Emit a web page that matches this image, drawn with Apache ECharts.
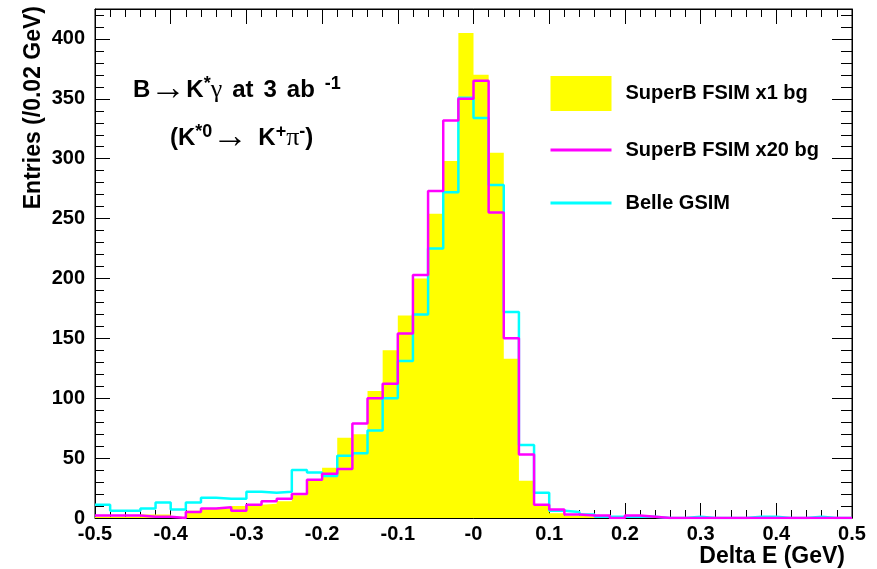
<!DOCTYPE html>
<html>
<head>
<meta charset="utf-8">
<style>
  * { margin: 0; padding: 0; }
  #container { width: 877px; height: 569px; background: #fff; }
</style>
</head>
<body>
<div id="container"></div>
<script src="https://cdn.jsdelivr.net/npm/echarts@6/dist/echarts.min.js"></script>
<script>
// histogram binning: 50 bins of 0.02 GeV from -0.5 to 0.5
var binLow = -0.5;
var binWidth = 0.02;
var xTickLabels = ['-0.5', '-0.4', '-0.3', '-0.2', '-0.1', '-0', '0.1', '0.2', '0.3', '0.4', '0.5'];

// entries per bin
var superbX1 = [1, 1, 1, 3, 3, 1, 6, 8, 8, 10,
                11, 12, 14, 19, 32, 42, 67, 70, 106, 140,
                169, 200, 254, 298, 405, 370, 305, 133, 31, 11,
                4, 2, 1, 1, 0, 1, 0, 0, 0, 0,
                0, 0, 0, 0, 0, 0, 0, 0, 0, 0];
var superbX20 = [2, 2, 2, 1, 1, 0, 5, 8, 9, 6,
                 11, 14, 16, 20, 32, 37, 41, 79, 100, 112,
                 154, 203, 273, 332, 350, 365, 255, 150, 53, 11,
                 7, 3, 2, 2, 0, 2, 1, 0, 0, 0,
                 0, 0, 0, 0, 0, 0, 0, 0, 0, 0];
var belleGsim = [11, 6, 6, 8, 13, 7, 13, 17, 16, 16,
                 22, 21, 22, 40, 38, 35, 52, 54, 73, 100,
                 131, 170, 225, 272, 351, 334, 278, 172, 61, 21,
                 6, 5, 3, 1, 1, 1, 1, 0, 0, 1,
                 0, 0, 0, 1, 1, 0, 0, 1, 0, 0];

var font = 'Liberation Sans, Arial, Helvetica, sans-serif';

// turn bin contents into [lowEdge, value] points for a step line
function stepPoints(values) {
  var pts = [];
  for (var i = 0; i < values.length; i++) {
    pts.push([+(binLow + i * binWidth).toFixed(2), values[i]]);
  }
  pts.push([+(binLow + values.length * binWidth).toFixed(2), values[values.length - 1]]);
  return pts;
}

function xLabel(v) {
  var idx = Math.round((v - binLow) * 10);
  return xTickLabels[idx] !== undefined ? xTickLabels[idx] : '';
}

var tickLine = { color: '#000', width: 1 };
var labelStyle = { color: '#000', fontFamily: font, fontWeight: 'bold', fontSize: 20 };

var richTitle = {
  n: { fontFamily: font, fontWeight: 'bold', fontSize: 24, lineHeight: 30, fill: '#000' },
  a: { fontFamily: 'Liberation Serif, DejaVu Serif, serif', fontSize: 36, lineHeight: 30, fill: '#000' },
  s: { fontFamily: 'Liberation Serif, DejaVu Serif, serif', fontSize: 26, lineHeight: 30, fill: '#000' },
  u: { fontFamily: font, fontWeight: 'bold', fontSize: 18, lineHeight: 15, verticalAlign: 'top', fill: '#000' },
  w: { width: 10, lineHeight: 30 }
};

var dom = document.getElementById('container');
var myChart = echarts.init(dom, null, { renderer: 'canvas' });

var option = {
  animation: false,
  backgroundColor: '#fff',
  grid: { left: 95, right: 25, top: 9, bottom: 51, show: true, borderColor: '#000', borderWidth: 1 },
  xAxis: [
    {
      type: 'value', min: -0.5, max: 0.5, interval: 0.1, position: 'bottom',
      axisLine: { onZero: false, lineStyle: tickLine },
      axisTick: { inside: true, length: 15, lineStyle: tickLine },
      minorTick: { show: true, splitNumber: 5, length: 8, lineStyle: tickLine },
      splitLine: { show: false },
      axisLabel: Object.assign({ margin: 6, showMinLabel: true, showMaxLabel: true, formatter: xLabel }, labelStyle)
    },
    {
      type: 'value', min: -0.5, max: 0.5, interval: 0.1, position: 'top',
      axisLine: { onZero: false, lineStyle: tickLine },
      axisTick: { inside: true, length: 15, lineStyle: tickLine },
      minorTick: { show: true, splitNumber: 5, length: 8, lineStyle: tickLine },
      splitLine: { show: false },
      axisLabel: { show: false }
    }
  ],
  yAxis: [
    {
      type: 'value', min: 0, max: 425, interval: 50, position: 'left',
      axisLine: { show: true, onZero: false, lineStyle: tickLine },
      axisTick: { show: true, inside: true, length: 15, lineStyle: tickLine },
      minorTick: { show: true, splitNumber: 5, length: 9, lineStyle: tickLine },
      splitLine: { show: false },
      axisLabel: Object.assign({
        margin: 10,
        formatter: function (v) { return v % 50 === 0 ? String(v) : ''; }
      }, labelStyle)
    },
    {
      type: 'value', min: 0, max: 425, interval: 50, position: 'right',
      axisLine: { show: true, onZero: false, lineStyle: tickLine },
      axisTick: { show: true, inside: true, length: 20, lineStyle: tickLine },
      minorTick: { show: true, splitNumber: 5, length: 11, lineStyle: tickLine },
      splitLine: { show: false },
      axisLabel: { show: false }
    }
  ],
  legend: {
    orient: 'vertical', left: 549, top: 76, padding: 0,
    itemWidth: 61, itemHeight: 35, itemGap: 25,
    textStyle: { color: '#000', fontFamily: font, fontWeight: 'bold', fontSize: 20, padding: [0, 0, 0, 9] },
    data: [
      { name: 'SuperB FSIM x1 bg', icon: 'rect' },
      { name: 'SuperB FSIM x20 bg', itemStyle: { opacity: 0 }, lineStyle: { width: 3 } },
      { name: 'Belle GSIM', itemStyle: { opacity: 0 }, lineStyle: { width: 3 } }
    ]
  },
  series: [
    {
      name: 'SuperB FSIM x1 bg', type: 'line', step: 'end', symbol: 'none',
      data: stepPoints(superbX1),
      itemStyle: { color: '#ffff00' },
      lineStyle: { width: 0, color: '#ffff00' },
      areaStyle: { color: '#ffff00', opacity: 1 },
      z: 1
    },
    {
      name: 'Belle GSIM', type: 'line', step: 'end', symbol: 'none',
      data: stepPoints(belleGsim),
      itemStyle: { color: '#00ffff' },
      lineStyle: { width: 2.5, color: '#00ffff' },
      z: 2
    },
    {
      name: 'SuperB FSIM x20 bg', type: 'line', step: 'end', symbol: 'none',
      data: stepPoints(superbX20),
      itemStyle: { color: '#ff00ff' },
      lineStyle: { width: 2.5, color: '#ff00ff' },
      z: 3
    }
  ],
  graphic: [
    {
      type: 'text', x: 34, y: 6, rotation: Math.PI / 2,
      style: {
        text: 'Entries (/0.02 GeV)', fill: '#000', align: 'right', verticalAlign: 'middle',
        fontFamily: font, fontWeight: 'bold', fontSize: 23
      }
    },
    {
      type: 'text', x: 845, y: 557,
      style: {
        text: 'Delta E (GeV)', fill: '#000', align: 'right', verticalAlign: 'middle',
        fontFamily: font, fontWeight: 'bold', fontSize: 23
      }
    },
    {
      type: 'text', x: 133, y: 75,
      style: {
        text: '{n|B}{a|\u2192}{n|K}{u|*}{s|\u03b3}{w|}{n|at}{w|}{n|3}{w|}{n|ab}{w|}{u|-1}',
        align: 'left', verticalAlign: 'top', fill: '#000',
        rich: richTitle
      }
    },
    {
      type: 'text', x: 170, y: 123,
      style: {
        text: '{n|(K}{u|*0}{a|\u2192}{w|}{n|K}{u|+}{s|\u03c0}{u|-}{n|)}',
        align: 'left', verticalAlign: 'top', fill: '#000',
        rich: richTitle
      }
    }
  ]
};

myChart.setOption(option);
</script>
</body>
</html>
